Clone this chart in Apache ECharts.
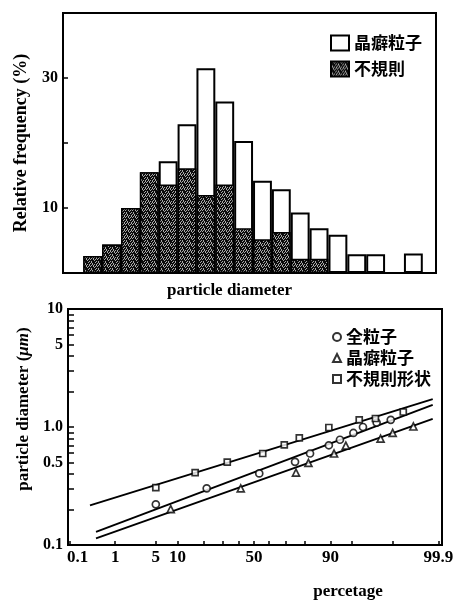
<!DOCTYPE html>
<html>
<head>
<meta charset="utf-8">
<script src="https://cdn.jsdelivr.net/npm/echarts@6/dist/echarts.min.js"></script>
<style>
  html, body { margin: 0; padding: 0; background: #fff; }
  #chart { width: 457px; height: 601px; }
</style>
</head>
<body>
<div id="chart"></div>
<script>
// ---- Histogram: relative frequency (%) in each size bin ----
const bins = [1, 2, 3, 4, 5, 6, 7, 8, 9, 10, 11, 12, 13, 14, 15, 16, 17, 18];
const irregularFreq = [2.6, 4.4, 10.0, 15.5, 13.6, 16.1, 12.0, 13.6, 6.9, 5.2, 6.3, 2.2, 2.2, 0, 0, 0, 0, 0];
const habitFreq = [0, 0, 0, 0, 3.6, 6.8, 19.5, 12.8, 13.4, 9.0, 6.6, 7.1, 4.7, 5.9, 2.9, 2.9, 0, 3.0];
const freqLabels = [10, 30];
const freqTicks = [10, 20, 30];

// ---- Probability plot: cumulative percentage vs particle diameter (um) ----
const allPct = [5.0, 21.4, 53.5, 75.4, 82.6, 89.5, 92.5, 95.2, 96.6, 98.0, 98.9];
const allDia = [0.221, 0.302, 0.404, 0.507, 0.596, 0.70, 0.78, 0.89, 1.0, 1.09, 1.15];
const habitPct = [8.15, 41.2, 75.9, 81.9, 91.0, 93.8, 98.3, 98.99, 99.62];
const habitDia = [0.201, 0.302, 0.41, 0.497, 0.596, 0.696, 0.797, 0.89, 1.01];
const irregPct = [5.0, 16.2, 32.7, 55.8, 69.4, 77.6, 89.5, 96.1, 97.9, 99.38];
const irregDia = [0.306, 0.41, 0.503, 0.596, 0.705, 0.808, 0.99, 1.15, 1.18, 1.34];

// fitted straight lines, [start, end]
const allFitPct = [0.406, 99.862];
const allFitDia = [0.129, 1.54];
const habitFitPct = [0.406, 99.862];
const habitFitDia = [0.114, 1.17];
const irregFitPct = [0.30, 99.862];
const irregFitDia = [0.217, 1.72];

const pctLabels = [0.1, 1, 5, 10, 50, 90, 99.9];
const pctTicks = [0.1, 1, 5, 10, 20, 30, 40, 50, 60, 70, 80, 90, 95, 99, 99.9];
const diaLabels = [0.1, 0.5, 1, 5, 10];
const diaTicks = [0.1, 0.2, 0.3, 0.4, 0.5, 0.6, 0.7, 0.8, 0.9, 1, 2, 3, 4, 5, 6, 7, 8, 9, 10];

// inverse standard normal CDF (Acklam), percentage -> probit position
function probit(pct) {
  const p = pct / 100;
  const a = [-3.969683028665376e+01, 2.209460984245205e+02, -2.759285104469687e+02, 1.383577518672690e+02, -3.066479806614716e+01, 2.506628277459239e+00];
  const b = [-5.447609879822406e+01, 1.615858368580409e+02, -1.556989798598866e+02, 6.680131188771972e+01, -1.328068155288572e+01];
  const c = [-7.784894002430293e-03, -3.223964580411365e-01, -2.400758277161838e+00, -2.549732539343734e+00, 4.374664141464968e+00, 2.938163982698783e+00];
  const d = [7.784695709041462e-03, 3.224671290700398e-01, 2.445134137142996e+00, 3.754408661907416e+00];
  const pl = 0.02425, ph = 1 - pl;
  let q, r;
  if (p < pl) {
    q = Math.sqrt(-2 * Math.log(p));
    return (((((c[0] * q + c[1]) * q + c[2]) * q + c[3]) * q + c[4]) * q + c[5]) /
      ((((d[0] * q + d[1]) * q + d[2]) * q + d[3]) * q + 1);
  }
  if (p <= ph) {
    q = p - 0.5; r = q * q;
    return (((((a[0] * r + a[1]) * r + a[2]) * r + a[3]) * r + a[4]) * r + a[5]) * q /
      (((((b[0] * r + b[1]) * r + b[2]) * r + b[3]) * r + b[4]) * r + 1);
  }
  q = Math.sqrt(-2 * Math.log(1 - p));
  return -(((((c[0] * q + c[1]) * q + c[2]) * q + c[3]) * q + c[4]) * q + c[5]) /
    ((((d[0] * q + d[1]) * q + d[2]) * q + d[3]) * q + 1);
}

// grainy dark fill for the irregular-particle bars
function grainPattern() {
  const cv = document.createElement('canvas');
  cv.width = 7; cv.height = 7;
  const g = cv.getContext('2d');
  g.fillStyle = '#a8a8a8';
  g.fillRect(0, 0, 7, 7);
  g.fillStyle = '#0c0c0c';
  for (let i = 0; i < 7; i++) {
    for (let j = 0; j < 7; j++) {
      if ((i * 3 + j * 2) % 7 < 4 || (i * j) % 5 === 1) g.fillRect(i, j, 1, 1);
    }
  }
  return cv;
}

const serif = 'Liberation Serif';
const cjk = 'Noto Sans CJK JP';

const histGrid = { left: 63, top: 13, width: 373, height: 260 };
const probGrid = { left: 68, top: 309, width: 374, height: 238 };
const binMin = -0.575, binMax = 19.2;
const barW = histGrid.width / (binMax - binMin);

// white bars reach the combined height; the grainy part is drawn in front of them
const totalFreq = irregularFreq.map((v, i) => v + habitFreq[i]);

const pctZ = pctLabels.map(probit);
function pctLabel(z) {
  let best = 0;
  pctZ.forEach((v, i) => { if (Math.abs(v - z) < Math.abs(pctZ[best] - z)) best = i; });
  const t = String(pctLabels[best]);
  return best === 0 ? '{first|' + t + '}' : t;
}

const toPts = (pcts, dias) => pcts.map((p, i) => [probit(p), dias[i]]);

const markerStyle = { color: '#fff', borderColor: '#000', borderWidth: 1.7 };
const fitLine = (pcts, dias) => ({
  type: 'line', xAxisIndex: 1, yAxisIndex: 1, data: toPts(pcts, dias),
  showSymbol: false, silent: true, z: 1,
  lineStyle: { color: '#000', width: 1.9 }
});

const chart = echarts.init(document.getElementById('chart'), null, { renderer: 'canvas' });
chart.setOption({
  backgroundColor: '#fff',
  animation: false,
  grid: [
    Object.assign({ show: true, borderColor: '#000', borderWidth: 2, backgroundColor: 'transparent' }, histGrid),
    Object.assign({ show: true, borderColor: '#000', borderWidth: 2, backgroundColor: 'transparent' }, probGrid)
  ],
  xAxis: [
    {
      gridIndex: 0, type: 'value', min: binMin, max: binMax,
      axisLine: { show: true, onZero: false, lineStyle: { color: '#000', width: 2 } },
      axisTick: { show: false }, axisLabel: { show: false }, splitLine: { show: false },
      name: 'particle diameter', nameLocation: 'middle', nameGap: 9,
      nameTextStyle: { fontFamily: serif, fontSize: 17, fontWeight: 'bold', color: '#000', padding: [0, 40, 0, 0] }
    },
    {
      gridIndex: 1, type: 'value', min: -3.116, max: 3.149,
      axisLine: { show: true, onZero: false, lineStyle: { color: '#000', width: 2 } },
      axisTick: { show: true, inside: true, length: 4, customValues: pctTicks.map(probit), lineStyle: { color: '#000', width: 1.5 } },
      axisLabel: {
        customValues: pctZ, formatter: pctLabel, margin: 4,
        fontFamily: serif, fontSize: 17, fontWeight: 'bold', color: '#000',
        rich: { first: { fontFamily: serif, fontSize: 17, fontWeight: 'bold', color: '#000', padding: [0, 0, 0, 16] } }
      },
      splitLine: { show: false },
      name: 'percetage', nameLocation: 'middle', nameGap: 38,
      nameTextStyle: { fontFamily: serif, fontSize: 17, fontWeight: 'bold', color: '#000', padding: [0, 0, 0, 186] }
    }
  ],
  yAxis: [
    {
      gridIndex: 0, type: 'value', min: 0, max: 40,
      axisLine: { show: true, onZero: false, lineStyle: { color: '#000', width: 2 } },
      axisTick: { show: true, inside: true, length: 5, customValues: freqTicks, lineStyle: { color: '#000', width: 1.5 } },
      axisLabel: { customValues: freqLabels, margin: 5, fontFamily: serif, fontSize: 16, fontWeight: 'bold', color: '#000' },
      splitLine: { show: false },
      name: 'Relative frequency (%)', nameLocation: 'middle', nameGap: 33,
      nameTextStyle: { fontFamily: serif, fontSize: 18, fontWeight: 'bold', color: '#000' }
    },
    {
      gridIndex: 1, type: 'log', logBase: 10, min: 0.1, max: 10,
      axisLine: { show: true, onZero: false, lineStyle: { color: '#000', width: 2 } },
      axisTick: { show: true, inside: true, length: 6, customValues: diaTicks, lineStyle: { color: '#000', width: 1.5 } },
      axisLabel: {
        customValues: diaLabels, margin: 5,
        formatter: v => (Math.abs(v - 1) < 1e-9 ? '1.0' : String(+v.toPrecision(3))),
        fontFamily: serif, fontSize: 16, fontWeight: 'bold', color: '#000'
      },
      splitLine: { show: false }, minorTick: { show: false },
      name: 'particle diameter ({i|μm})', nameLocation: 'middle', nameGap: 36,
      nameTextStyle: {
        fontFamily: serif, fontSize: 17, fontWeight: 'bold', color: '#000', padding: [0, 0, 0, 36],
        rich: { i: { fontFamily: serif, fontSize: 17, fontWeight: 'bold', fontStyle: 'italic', color: '#000' } }
      }
    }
  ],
  legend: [
    {
      data: ['晶癖粒子', '不規則'], orient: 'vertical', left: 330, top: 34, padding: 0,
      itemWidth: 18, itemHeight: 15, itemGap: 8, icon: 'rect',
      textStyle: { fontFamily: cjk, fontSize: 17, fontWeight: 'bold', color: '#000', lineHeight: 18 }
    },
    {
      data: ['全粒子', '晶癖粒子 ', '不規則形状'], orient: 'vertical', left: 332, top: 328, padding: 0,
      itemWidth: 8, itemHeight: 8, itemGap: 3,
      textStyle: { fontFamily: cjk, fontSize: 17, fontWeight: 'bold', color: '#000', lineHeight: 18 }
    }
  ],
  series: [
    {
      name: '晶癖粒子', type: 'bar', xAxisIndex: 0, yAxisIndex: 0, barWidth: barW, barGap: '-100%',
      data: bins.map((b, i) => [b, totalFreq[i]]),
      itemStyle: { color: '#fff', borderColor: '#000', borderWidth: 2 }
    },
    {
      name: '不規則', type: 'bar', xAxisIndex: 0, yAxisIndex: 0, barWidth: barW, barGap: '-100%',
      data: bins.map((b, i) => [b, irregularFreq[i]]),
      itemStyle: { color: { image: grainPattern(), repeat: 'repeat' }, borderColor: '#000', borderWidth: 1.5 }
    },
    fitLine(allFitPct, allFitDia),
    fitLine(habitFitPct, habitFitDia),
    fitLine(irregFitPct, irregFitDia),
    {
      name: '全粒子', type: 'scatter', xAxisIndex: 1, yAxisIndex: 1, z: 3,
      symbol: 'circle', symbolSize: 7, data: toPts(allPct, allDia), itemStyle: markerStyle
    },
    {
      name: '晶癖粒子 ', type: 'scatter', xAxisIndex: 1, yAxisIndex: 1, z: 3,
      symbol: 'triangle', symbolSize: 7, data: toPts(habitPct, habitDia), itemStyle: markerStyle
    },
    {
      name: '不規則形状', type: 'scatter', xAxisIndex: 1, yAxisIndex: 1, z: 3,
      symbol: 'rect', symbolSize: 6, data: toPts(irregPct, irregDia), itemStyle: markerStyle
    }
  ]
});
</script>
</body>
</html>
